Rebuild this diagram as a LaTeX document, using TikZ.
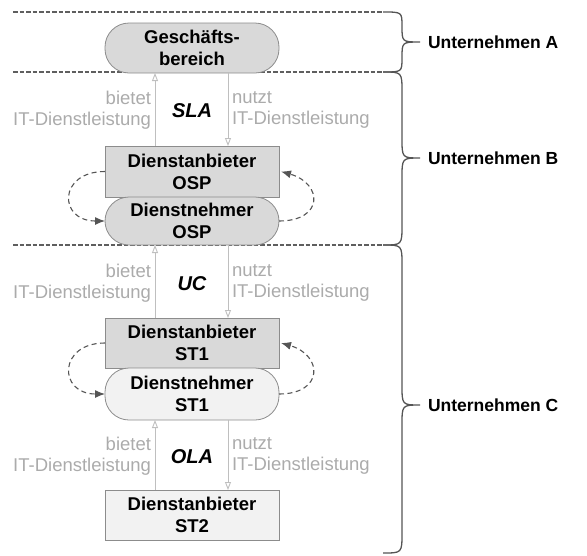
\documentclass[tikz,border=0pt]{standalone}
\usepackage{fontspec}
\setmainfont{Liberation Sans}
\usetikzlibrary{arrows.meta,calc}
\definecolor{boxdark}{HTML}{D9D9D9}
\definecolor{boxlight}{HTML}{F2F2F2}
\definecolor{boxline}{HTML}{8C8C8C}
\definecolor{sepline}{HTML}{5F5F5F}
\definecolor{svcline}{HTML}{BFBFBF}
\definecolor{svctext}{HTML}{ABABAB}
\definecolor{loopline}{HTML}{555555}
\begin{document}
\begin{tikzpicture}[x=1pt,y=-1pt,
  every node/.style={inner sep=0pt,outer sep=0pt},
  unit/.style={draw=boxline,line width=0.8pt,minimum width=174pt,align=center,
    font=\fontsize{18.5}{22}\selectfont\bfseries},
  provider/.style={unit,rectangle},
  consumer/.style={unit,rectangle,rounded corners=24pt},
  svc/.style={draw=svcline,line width=0.9pt,
    -{Triangle[length=8pt,width=6pt,fill=boxdark!60,open]}},
  svclabel/.style={text=svctext,font=\fontsize{18.5}{21.5}\selectfont},
  agreement/.style={font=\fontsize{20}{24}\selectfont\bfseries\itshape},
  selfloop/.style={draw=loopline,line width=1.1pt,dash pattern=on 5pt off 3.5pt,
    -{Latex[length=10pt,width=8pt]}},
  separator/.style={draw=sepline,line width=1.1pt,dash pattern=on 4.5pt off 2pt},
  bracket/.style={draw=loopline,line width=1.3pt},
  company/.style={anchor=west,font=\fontsize{17.5}{21}\selectfont\bfseries}]

\useasboundingbox (0,0) rectangle (587,555);

% company separators
\coordinate (s1a) at (13,12);  \coordinate (s1b) at (383,12);
\coordinate (s2a) at (13,72);  \coordinate (s2b) at (383,72);
\coordinate (s3a) at (13,245); \coordinate (s3b) at (383,245);
\coordinate (s4b) at (383,553);
\draw[separator] (s1a) -- (s1b);
\draw[separator] (s2a) -- (s2b);
\draw[separator] (s3a) -- (s3b);

% service units
\node[consumer,fill=boxdark,minimum height=50pt] (gb) at (192,48) {Geschäfts-\\bereich};
\node[provider,fill=boxdark,minimum height=51pt] (dOSP) at (192,171.5) {Dienstanbieter\\OSP};
\node[consumer,fill=boxdark,minimum height=48pt] (nOSP) at (192,221) {Dienstnehmer\\OSP};
\node[provider,fill=boxdark,minimum height=50pt] (dST1) at (192,343) {Dienstanbieter\\ST1};
\node[consumer,fill=boxlight,minimum height=52pt] (nST1) at (192,394) {Dienstnehmer\\ST1};
\node[provider,fill=boxlight,minimum height=50pt] (dST2) at (192,515) {Dienstanbieter\\ST2};

% offered / used services between the levels
\foreach \low/\high/\ym/\agr in {dOSP/gb/110/SLA, dST1/nOSP/283/UC, dST2/nST1/456/OLA}{
  \draw[svc] ([xshift=-37pt]\low.north) -- ([xshift=-37pt]\high.south);
  \draw[svc] ([xshift=36pt]\high.south) -- ([xshift=36pt]\low.north);
  \node[svclabel,anchor=east,align=right] (b\agr) at (151,\ym) {bietet\\IT-Dienstleistung};
  \node[svclabel,anchor=west,align=left] (n\agr) at (232,\ym) {nutzt\\IT-Dienstleistung};
  \node[agreement] (a\agr) at (192,\ym+1) {\agr};
}

% provider/consumer loops inside a company
\foreach \p/\c in {dOSP/nOSP, dST1/nST1}{
  \draw[selfloop] (\p.west) .. controls +(-47,0) and +(-47,0) .. (\c.west);
  \draw[selfloop] (\c.east) .. controls +(45,0) and +(42,12) .. ([xshift=2pt]\p.east);
}

% company brackets
\draw[bracket] (s1b) .. controls (402,12) .. (402,26)
  .. controls (402,42) .. (420,42) coordinate (tA)
  .. controls (402,42) .. (402,58) .. controls (402,72) .. (s2b);
\draw[bracket] (s2b) .. controls (402,72) .. (402,92) -- (402,138)
  .. controls (402,158) .. (420,158) coordinate (tB)
  .. controls (402,158) .. (402,178) -- (402,225) .. controls (402,245) .. (s3b);
\draw[bracket] (s3b) .. controls (402,245) .. (402,265) -- (402,385)
  .. controls (402,405) .. (420,405) coordinate (tC)
  .. controls (402,405) .. (402,425) -- (402,533) .. controls (402,553) .. (s4b);

\node[company] (uA) at ([xshift=8pt]tA) {Unternehmen A};
\node[company] (uB) at ([xshift=8pt]tB) {Unternehmen B};
\node[company] (uC) at ([xshift=8pt]tC) {Unternehmen C};
\end{tikzpicture}
\end{document}
